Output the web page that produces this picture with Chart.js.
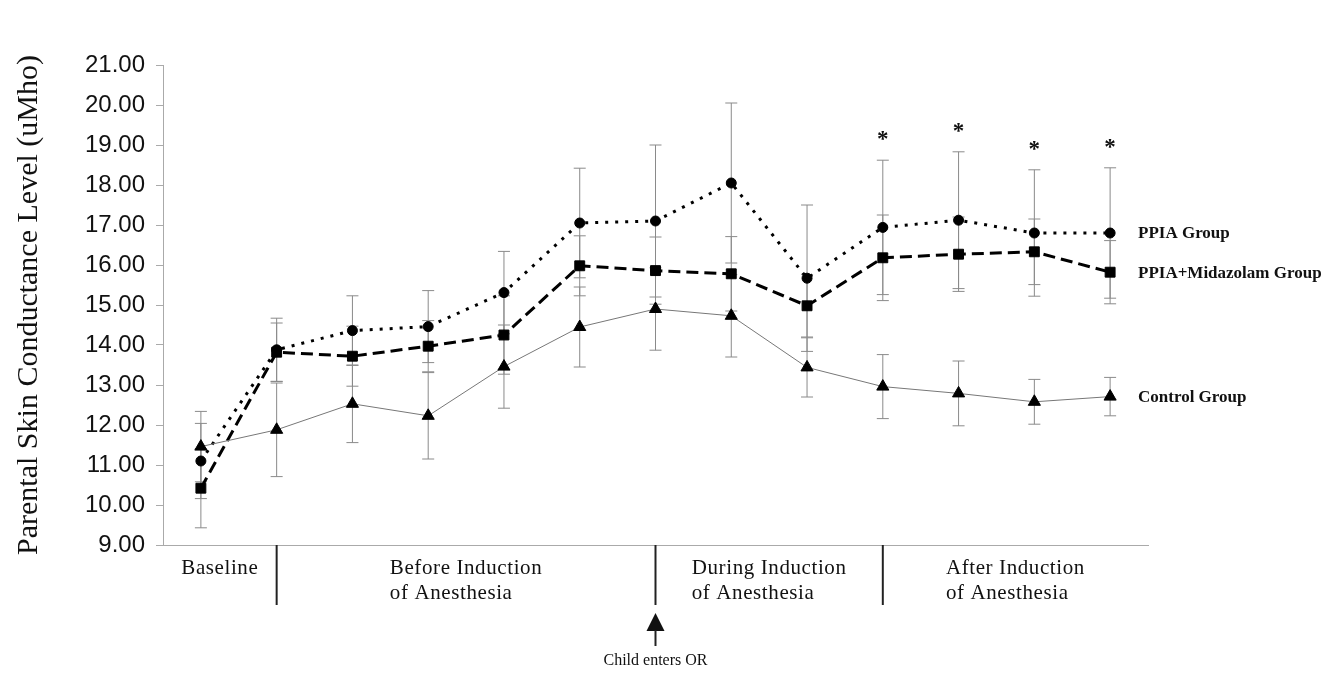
<!DOCTYPE html>
<html>
<head>
<meta charset="utf-8">
<script src="https://cdn.jsdelivr.net/npm/chart.js@4.4.1/dist/chart.umd.min.js"></script>
<style>
  html, body { margin: 0; padding: 0; background: #fff; }
  #wrap { width: 1344px; height: 675px; position: relative; }
</style>
</head>
<body>
<div id="wrap"><canvas id="sclChart"></canvas></div>
<script>
// time points (13 measurements)
const timePoints = ["T1", "T2", "T3", "T4", "T5", "T6", "T7", "T8", "T9", "T10", "T11", "T12", "T13"];

const ppia = [11.10, 13.88, 14.36, 14.46, 15.31, 17.05, 17.10, 18.05, 15.67, 16.94, 17.12, 16.80, 16.80];
const ppiaErr = [0.94, 0.79, 0.87, 0.90, 1.03, 1.37, 1.90, 2.00, 1.83, 1.68, 1.71, 1.58, 1.63];

const midazolam = [10.42, 13.82, 13.72, 13.97, 14.25, 15.98, 15.86, 15.78, 14.98, 16.18, 16.27, 16.33, 15.82];
const midazolamErr = [0.99, 0.73, 0.75, 0.64, 0.98, 0.75, 0.84, 0.93, 0.78, 1.07, 0.93, 0.82, 0.79];

const control = [11.46, 11.88, 12.53, 12.23, 13.46, 14.45, 14.90, 14.73, 13.44, 12.96, 12.79, 12.58, 12.71];
const controlErr = [0.88, 1.17, 0.97, 1.08, 1.04, 1.00, 1.03, 1.03, 0.74, 0.80, 0.81, 0.56, 0.48];

const seriesNames = ["PPIA Group", "PPIA+Midazolam Group", "Control Group"];

// phases along the x axis, separators fall on these time point indices
const phaseLabels = [
  ["Baseline"],
  ["Before Induction", "of Anesthesia"],
  ["During Induction", "of Anesthesia"],
  ["After Induction", "of Anesthesia"],
];
const phaseBreaks = [1, 6, 9];
const childEntersIndex = 6;
const significant = [9, 10, 11, 12];

const yMin = 9, yMax = 21;

const serif = "'Liberation Serif', 'Times New Roman', serif";
const sans = "'Liberation Sans', Arial, sans-serif";

// error bars, phase labels, arrow, asterisks, right side labels
const extras = {
  id: "extras",
  beforeDatasetsDraw(chart) {
    const { ctx, scales: { x, y } } = chart;
    const sets = [[ppia, ppiaErr], [midazolam, midazolamErr], [control, controlErr]];
    ctx.save();
    ctx.strokeStyle = "#8a8a8a";
    ctx.lineWidth = 1;
    sets.forEach(([vals, errs]) => {
      vals.forEach((v, i) => {
        const px = x.getPixelForValue(i);
        const top = y.getPixelForValue(v + errs[i]);
        const bot = y.getPixelForValue(v - errs[i]);
        ctx.beginPath();
        ctx.moveTo(px, top); ctx.lineTo(px, bot);
        ctx.moveTo(px - 6, top); ctx.lineTo(px + 6, top);
        ctx.moveTo(px - 6, bot); ctx.lineTo(px + 6, bot);
        ctx.stroke();
      });
    });
    ctx.restore();
  },
  afterDraw(chart) {
    const { ctx, chartArea, scales: { x, y } } = chart;
    ctx.save();
    ctx.fillStyle = "#111";
    ctx.strokeStyle = "#222";

    // phase separators
    const bounds = [chartArea.left, ...phaseBreaks.map((i) => x.getPixelForValue(i)), chartArea.right];
    ctx.lineWidth = 2;
    phaseBreaks.forEach((i) => {
      const px = x.getPixelForValue(i);
      ctx.beginPath();
      ctx.moveTo(px, chartArea.bottom);
      ctx.lineTo(px, chartArea.bottom + 60);
      ctx.stroke();
    });

    // phase labels, left aligned block centred in each phase
    ctx.font = "21px " + serif;
    ctx.letterSpacing = "0.6px";
    ctx.textBaseline = "middle";
    ctx.textAlign = "left";
    phaseLabels.forEach((lines, k) => {
      const mid = (bounds[k] + bounds[k + 1]) / 2;
      const w = Math.max(...lines.map((l) => ctx.measureText(l).width));
      lines.forEach((l, j) => {
        ctx.fillText(l, mid - w / 2, chartArea.bottom + 23 + j * 25);
      });
    });
    ctx.letterSpacing = "0px";

    // child enters OR arrow
    const ax = x.getPixelForValue(childEntersIndex);
    ctx.beginPath();
    ctx.moveTo(ax, 613);
    ctx.lineTo(ax - 9, 631);
    ctx.lineTo(ax + 9, 631);
    ctx.closePath();
    ctx.fill();
    ctx.lineWidth = 2;
    ctx.beginPath();
    ctx.moveTo(ax, 630);
    ctx.lineTo(ax, 646);
    ctx.stroke();
    ctx.font = "16px " + serif;
    ctx.textAlign = "center";
    ctx.fillText("Child enters OR", ax, 661);

    // significance asterisks
    ctx.font = "bold 23px " + serif;
    significant.forEach((i) => {
      const px = x.getPixelForValue(i);
      const top = y.getPixelForValue(ppia[i] + ppiaErr[i]);
      ctx.fillText("*", px, top - 20);
    });

    // series labels next to the last point
    ctx.font = "bold 17px " + serif;
    ctx.textAlign = "left";
    const last = timePoints.length - 1;
    [ppia, midazolam, control].forEach((vals, k) => {
      ctx.fillText(seriesNames[k], 1138, y.getPixelForValue(vals[last]) + 1);
    });
    ctx.restore();
  },
};

const ctx = document.getElementById("sclChart");

new Chart(ctx, {
  type: "line",
  data: {
    labels: timePoints,
    datasets: [
      {
        label: seriesNames[2],
        data: control,
        borderColor: "#777",
        borderWidth: 1,
        pointStyle: "triangle",
        pointRadius: 7,
        pointBackgroundColor: "#000",
        pointBorderColor: "#000",
        pointBorderWidth: 1,
        tension: 0,
      },
      {
        label: seriesNames[1],
        data: midazolam,
        borderColor: "#000",
        borderWidth: 3,
        borderDash: [12, 6],
        pointStyle: "rect",
        pointRadius: 7,
        pointBackgroundColor: "#000",
        pointBorderColor: "#000",
        pointBorderWidth: 1,
        tension: 0,
      },
      {
        label: seriesNames[0],
        data: ppia,
        borderColor: "#000",
        borderWidth: 3,
        borderDash: [3, 7],
        pointStyle: "circle",
        pointRadius: 5,
        pointBackgroundColor: "#000",
        pointBorderColor: "#000",
        pointBorderWidth: 1,
        tension: 0,
      },
    ],
  },
  options: {
    responsive: true,
    maintainAspectRatio: false,
    animation: false,
    layout: { padding: { top: 65, right: 196, bottom: 0, left: 0 } },
    plugins: { legend: { display: false }, tooltip: { enabled: false } },
    scales: {
      x: {
        offset: true,
        ticks: { display: false },
        grid: { display: false },
        border: { display: true, color: "#aaa", width: 1 },
        afterFit: (s) => { s.height = 130; },
      },
      y: {
        min: yMin,
        max: yMax,
        ticks: {
          stepSize: 1,
          padding: 11,
          color: "#111",
          font: { family: sans, size: 24 },
          callback: (v) => Number(v).toFixed(2),
        },
        grid: { drawOnChartArea: false, drawTicks: true, tickLength: 7, color: "#aaa" },
        border: { display: true, color: "#aaa", width: 1 },
        title: {
          display: true,
          text: "Parental Skin Conductance Level (uMho)",
          color: "#111",
          font: { family: serif, size: 30 },
          padding: { top: 11, bottom: 0 },
        },
        afterFit: (s) => { s.width = 163; },
      },
    },
  },
  plugins: [extras],
});
</script>
</body>
</html>
